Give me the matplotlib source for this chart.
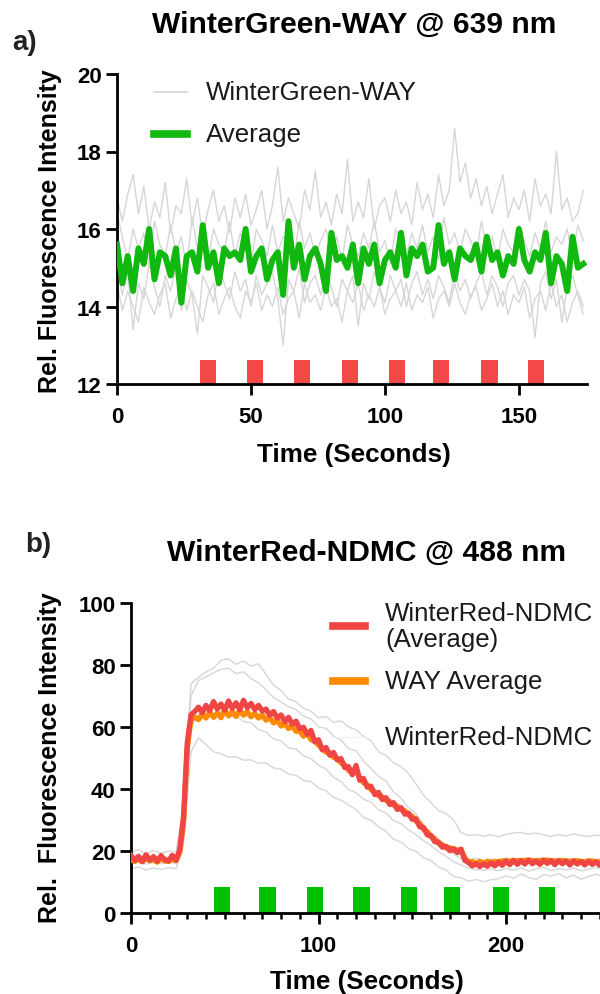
import numpy as np
import matplotlib
matplotlib.use('Agg')
import matplotlib.pyplot as plt
from matplotlib.ticker import MultipleLocator

plt.rcParams['font.family'] = ['Liberation Sans', 'DejaVu Sans']

# ---------------- Panel a data (sampled every 2 s) ----------------
a_dt = 2.0
a_average = [15.6, 14.6, 15.3, 14.4, 15.5, 15.1, 16.0, 14.7, 15.4, 15.3, 14.8, 15.5, 14.1, 15.3, 15.4, 14.9,
             16.1, 15.0, 15.4, 14.6, 15.5, 15.3, 15.4, 15.2, 16.0, 14.9, 15.3, 15.5, 14.7, 15.2, 15.4, 14.3,
             16.2, 15.0, 15.6, 14.7, 15.3, 15.5, 15.1, 14.4, 15.9, 15.2, 15.3, 15.0, 15.6, 14.6, 15.5, 15.1,
             15.6, 14.6, 15.2, 15.4, 15.0, 15.9, 14.8, 15.5, 15.3, 15.6, 14.9, 15.0, 16.1, 15.1, 15.4, 14.7,
             15.5, 15.3, 15.2, 15.6, 14.9, 15.8, 15.2, 15.4, 14.8, 15.3, 15.1, 16.0, 15.2, 14.9, 15.4, 15.2,
             15.9, 14.6, 15.3, 15.1, 14.4, 15.8, 15.0, 15.1]
a_trace1 = [16.8, 16.2, 16.9, 17.4, 16.4, 17.1, 16.0, 16.7, 16.3, 17.2, 15.9, 16.6, 16.4, 17.3, 16.1, 16.8,
            15.8, 16.5, 17.0, 16.2, 16.6, 15.9, 16.8, 16.3, 16.9, 16.1, 16.5, 17.0, 16.0, 16.6, 17.6, 16.2,
            16.8, 16.4, 16.0, 17.0, 16.5, 17.5, 16.3, 16.7, 16.1, 16.9, 16.4, 17.8, 16.2, 16.7, 16.3, 17.3,
            16.0, 16.6, 16.8, 16.2, 17.0, 16.4, 16.7, 16.1, 17.2, 16.5, 16.9, 16.3, 17.4, 16.6, 17.0, 18.6,
            17.2, 17.7, 16.8, 17.3, 16.6, 17.1, 16.4, 16.9, 17.4, 16.3, 16.8, 16.5, 17.0, 16.2, 17.3, 16.6,
            16.9, 16.4, 18.0, 16.5, 16.8, 16.2, 16.4, 17.0]
a_trace2 = [16.4, 15.8, 15.2, 16.0, 15.5, 15.9, 15.1, 16.2, 15.6, 15.3, 16.1, 15.4, 15.8, 15.0, 16.3, 15.5,
            15.7, 15.2, 16.0, 15.6, 15.4, 16.2, 15.3, 15.9, 15.5, 15.1, 16.0, 15.7, 15.3, 16.1, 15.4, 15.8,
            15.6, 15.2, 16.2, 15.5, 15.9, 15.3, 15.7, 16.0, 15.4, 15.8, 15.2, 16.1, 15.6, 15.3, 15.9, 15.5,
            16.2, 15.4, 15.7, 15.1, 16.0, 15.6, 15.3, 15.9, 15.5, 16.1, 15.4, 15.8, 15.2, 16.3, 15.6, 15.9,
            15.4, 16.0, 15.7, 15.3, 16.2, 15.5, 15.8, 15.2, 16.0, 15.6, 15.4, 16.1, 15.7, 15.3, 15.9, 15.5,
            16.2, 15.4, 15.8, 15.6, 16.0, 15.3, 16.1, 15.7]
a_trace3 = [15.0, 14.3, 14.9, 13.4, 14.6, 14.2, 15.1, 14.5, 14.0, 14.8, 14.4, 15.0, 13.9, 14.7, 14.3, 13.3,
            14.8, 14.5, 14.1, 15.0, 14.6, 14.2, 14.9, 14.4, 14.7, 14.0, 14.8, 14.3, 14.6, 14.9, 14.2, 13.0,
            14.7, 14.4, 15.0, 14.1, 14.6, 14.8, 14.3, 14.9, 14.5, 14.0, 14.7, 14.4, 14.8, 13.5, 14.6, 14.2,
            14.9, 14.5, 14.1, 14.8, 14.4, 14.7, 14.0, 14.6, 14.9, 14.3, 14.7, 14.2, 14.8, 14.5, 14.1, 14.9,
            14.4, 14.7, 14.2, 14.6, 14.9, 14.3, 14.8, 14.5, 14.0, 14.6, 14.8, 14.3, 14.7, 14.4, 13.2, 14.6,
            14.9, 14.2, 14.7, 13.6, 14.5, 14.8, 14.3, 13.8]
a_trace4 = [14.6, 13.9, 14.4, 14.0, 13.6, 14.5, 14.1, 13.8, 14.3, 14.6, 13.7, 14.2, 14.5, 13.9, 14.4, 14.0,
            13.6, 14.3, 14.6, 13.8, 14.2, 14.5, 14.0, 13.7, 14.4, 14.1, 14.6, 13.9, 14.3, 14.0, 14.5, 13.8,
            14.2, 14.4, 13.7, 14.6, 14.1, 14.3, 13.9, 14.5, 14.0, 14.2, 13.6, 14.4, 14.1, 14.6, 13.9, 14.3,
            14.0, 14.5, 13.8, 14.2, 14.4, 14.0, 14.6, 13.9, 14.3, 14.1, 14.5, 13.7, 14.2, 14.4, 14.0, 14.6,
            14.1, 13.8, 14.3, 14.5, 13.9, 14.2, 14.6, 14.0, 14.4, 13.8, 14.3, 14.1, 14.5, 13.7, 14.2, 14.4,
            13.9, 14.6, 14.0, 14.3, 13.6, 14.1, 14.4, 14.0]
a_stim_start = [31.0, 48.5, 66.0, 84.0, 101.5, 118.0, 136.0, 153.5]
a_stim_width = 6.0
a_stim_height = 0.62
a_base = 12.0

# ---------------- Panel b data ----------------
b_dt_avg = 2.0
b_red_avg = [18.6, 16.9, 18.3, 16.6, 18.8, 17.0, 18.2, 16.7, 18.5, 17.1, 16.8, 18.6, 17.0,
             20.5, 31.0, 55.0, 64.0,
             65.0, 66.4, 64.6, 67.0, 65.3, 68.2, 65.8, 67.4, 65.4, 68.4, 66.0, 67.8, 65.6, 68.6, 66.2,
             67.6, 65.6, 67.0, 65.2,
             65.8, 63.8, 65.0, 62.9, 63.9, 61.8, 63.1, 60.9, 61.9, 59.4, 59.9, 57.6, 58.9, 55.2, 55.9,
             52.6, 53.4, 50.9, 51.8, 49.4,
             49.8, 46.9, 47.2, 44.6, 47.6, 42.8, 43.4, 40.6, 40.9, 38.2, 38.9, 36.6, 37.2, 35.0, 35.6,
             33.4, 34.0, 31.9, 32.2, 30.2,
             30.4, 27.8, 27.6, 25.2, 25.0, 23.0, 22.9, 21.2, 21.5, 20.1, 20.8, 19.5, 20.6, 17.0, 16.3,
             15.2, 15.9, 15.0, 15.8, 15.1,
             16.2, 15.2, 16.4, 15.4, 16.8, 15.6, 17.0, 15.7, 16.9, 15.8, 17.1, 15.9, 16.8, 15.7, 17.0,
             16.0, 16.9, 15.6, 16.9, 15.9, 16.8, 15.5, 16.8, 15.8, 16.6, 15.5, 16.7, 15.7, 16.5, 15.4, 16.3]
b_way_avg = [17.2, 16.6, 17.4, 16.5, 17.6, 16.9, 17.1, 16.4, 17.5, 16.8, 16.6, 17.4, 16.9,
             19.5, 29.0, 53.0, 62.5,
             63.2, 62.4, 64.1, 62.9, 64.8, 63.1, 64.5, 63.0, 65.5, 63.6, 64.9, 63.4, 65.4, 63.8, 64.9,
             63.3, 64.4, 62.9, 63.9,
             62.2, 63.1, 61.3, 62.1, 60.3, 61.1, 59.5, 60.3, 58.6, 58.7, 57.0, 58.1, 55.9, 55.4, 54.2,
             53.1, 51.9, 51.6, 50.2, 49.8,
             48.4, 47.7, 46.0, 45.2, 46.1, 43.5, 42.0, 41.3, 39.8, 39.1, 37.8, 37.5, 36.3, 36.0, 34.8,
             34.5, 33.4, 33.0, 31.6, 31.2,
             29.6, 28.8, 27.0, 26.3, 24.6, 24.0, 22.4, 22.1, 21.0, 21.1, 20.2, 20.4, 20.3, 17.8, 16.4,
             16.6, 15.9, 16.7, 16.0, 16.7,
             16.3, 16.6, 16.5, 16.8, 16.7, 16.8, 16.8, 16.9, 16.9, 17.0, 17.0, 17.0, 16.7, 16.9, 16.9,
             17.1, 16.8, 16.8, 16.8, 17.0, 16.7, 16.7, 16.8, 16.9, 16.6, 16.6, 16.7, 16.8, 16.5, 16.5, 16.4]
b_dt_trace = 4.0
b_trace1 = [19.5, 20.5, 19.0, 20.2, 19.3, 20.0, 19.6, 35.0, 74.0,
            76.0, 77.8, 79.0, 81.5, 82.0, 80.2, 81.3, 79.6, 80.4, 77.0,
            73.5, 71.8, 69.0, 68.2, 66.0, 65.1, 63.0, 63.4, 61.5, 62.0,
            60.0, 59.1, 57.0, 55.6, 52.0, 50.8, 48.5, 47.2, 45.0, 41.6,
            38.0, 35.6, 33.0, 32.1, 30.0, 26.0, 25.0, 25.3, 24.8, 25.2,
            24.6, 25.4, 25.8, 26.0, 25.4, 25.8, 25.2, 24.7, 25.3, 24.8, 25.5, 25.0, 24.7, 25.1, 24.9]
b_trace2 = [18.5, 17.6, 18.8, 17.9, 18.4, 17.7, 18.2, 30.0, 70.0,
            75.0, 76.2, 77.5, 78.6, 79.0, 77.2, 77.8, 75.6, 74.3, 72.0,
            69.5, 68.1, 66.5, 65.6, 63.5, 62.6, 60.0, 59.6, 57.0, 55.8,
            53.0, 52.4, 49.0, 46.7, 44.0, 42.6, 39.0, 37.1, 34.0, 32.0,
            28.5, 25.0, 22.5, 20.5, 19.0, 17.5, 17.2, 17.6, 17.0, 17.4,
            17.1, 17.8, 17.3, 17.6, 17.0, 17.5, 17.9, 17.2, 17.6, 17.1, 17.4, 17.0, 17.5, 17.2, 17.6]
b_trace3 = [16.0, 16.5, 15.8, 16.3, 15.9, 16.4, 16.0, 25.0, 60.0,
            64.0, 65.2, 63.8, 65.0, 63.2, 63.6, 61.8, 61.4, 59.2, 58.4,
            56.2, 55.5, 53.3, 52.9, 50.7, 49.8, 47.7, 46.4, 43.8, 42.4,
            39.8, 38.8, 36.7, 35.8, 33.3, 32.3, 29.8, 28.8, 26.8, 25.3,
            23.3, 21.8, 19.8, 18.3, 16.5, 15.5, 14.5, 14.0, 13.8, 14.2,
            13.6, 14.4, 13.9, 14.6, 13.5, 14.2, 14.8, 13.7, 14.3, 13.9, 14.5, 13.6, 14.1, 14.7, 14.0]
b_trace4 = [14.2, 14.8, 13.9, 14.5, 14.0, 14.6, 14.3, 22.0, 52.0,
            56.5, 54.3, 52.0, 51.4, 50.3, 50.4, 49.3, 49.4, 48.3, 48.4,
            46.8, 46.4, 44.8, 44.4, 42.8, 42.4, 40.3, 39.4, 37.3, 36.4,
            34.8, 33.4, 30.8, 29.9, 27.8, 26.4, 23.8, 22.9, 20.8, 19.9,
            17.8, 16.9, 14.8, 13.9, 11.8, 11.3, 10.3, 10.8, 10.1, 10.7,
            11.0, 12.0, 11.2, 12.6, 11.5, 10.8, 12.4, 11.9, 12.8, 11.3, 12.2, 10.9, 11.8, 12.5, 11.6]
b_stim_start = [44.0, 68.5, 93.7, 118.6, 144.0, 167.0, 193.0, 217.6]
b_stim_width = 8.6
b_stim_height = 8.4

# ---------------- styles ----------------
GREY = '#d6d6d6'
GREEN = '#10b810'
RED = '#f04545'
ORANGE = '#ff8a00'
BAR_RED = '#f24848'
BAR_GREEN = '#00c000'
TXT = '#1a1a1a'
LEG_FS = 18.6

W, H = 600, 995
fig = plt.figure(figsize=(W / 100, H / 100), dpi=100)


def px_box(x0, y0, x1, y1):
    return [x0 / W, 1 - y1 / H, (x1 - x0) / W, (y1 - y0) / H]


axA = fig.add_axes(px_box(117, 75, 587, 385))
axB = fig.add_axes(px_box(131, 604, 600, 914))


def style_axes(ax):
    for s in ['top', 'right']:
        ax.spines[s].set_visible(False)
    for s in ['left', 'bottom']:
        ax.spines[s].set_linewidth(2.0)
    ax.tick_params(which='major', direction='out', length=8, width=2.0, labelsize=16, pad=3)
    ax.tick_params(which='minor', direction='out', length=4.5, width=1.8)
    for lbl in ax.get_xticklabels() + ax.get_yticklabels():
        lbl.set_fontweight('bold')


# ---- Panel a ----
for tr in [a_trace1, a_trace2, a_trace3, a_trace4]:
    axA.plot(np.arange(len(tr)) * a_dt, tr, color=GREY, lw=1.0, zorder=1)
axA.plot(np.arange(len(a_average)) * a_dt, a_average, color=GREEN, lw=4.3, zorder=3)
axA.bar(a_stim_start, [a_stim_height] * len(a_stim_start), width=a_stim_width, bottom=a_base,
        align='edge', color=BAR_RED, zorder=2)
axA.set_xlim(0, 175.4)
axA.set_ylim(12, 20)
axA.set_xticks([0, 50, 100, 150])
axA.set_yticks([12, 14, 16, 18, 20])
style_axes(axA)
axA.tick_params(axis='x', pad=8)

# legend a (manual)
axA.plot([0.079, 0.149], [0.942, 0.942], transform=axA.transAxes, color=GREY, lw=1.2, clip_on=False)
axA.text(0.189, 0.942, 'WinterGreen-WAY', transform=axA.transAxes, fontsize=LEG_FS, color=TXT,
         va='center', ha='left')
axA.plot([0.079, 0.149], [0.806, 0.806], transform=axA.transAxes, color=GREEN, lw=5.5, clip_on=False)
axA.text(0.189, 0.806, 'Average', transform=axA.transAxes, fontsize=LEG_FS, color=TXT,
         va='center', ha='left')

# ---- Panel b ----
for tr in [b_trace1, b_trace2, b_trace3, b_trace4]:
    axB.plot(np.arange(len(tr)) * b_dt_trace, tr, color=GREY, lw=1.0, zorder=1)
axB.plot(np.arange(len(b_way_avg)) * b_dt_avg, b_way_avg, color=ORANGE, lw=3.8, zorder=3)
axB.plot(np.arange(len(b_red_avg)) * b_dt_avg, b_red_avg, color=RED, lw=3.8, zorder=4)
axB.bar(b_stim_start, [b_stim_height] * len(b_stim_start), width=b_stim_width, bottom=0,
        align='edge', color=BAR_GREEN, zorder=2)
axB.set_xlim(0, 250.1)
axB.set_ylim(0, 100)
axB.set_xticks([0, 100, 200])
axB.xaxis.set_minor_locator(MultipleLocator(10))
axB.set_yticks([0, 20, 40, 60, 80, 100])
style_axes(axB)
axB.tick_params(axis='x', pad=8)

# legend b (manual)
axB.plot([0.431, 0.499], [0.926, 0.926], transform=axB.transAxes, color=RED, lw=5.5, clip_on=False)
axB.text(0.542, 0.926, 'WinterRed-NDMC\n(Average)', transform=axB.transAxes, fontsize=LEG_FS,
         color=TXT, va='center', ha='left', linespacing=1.1)
axB.plot([0.431, 0.499], [0.748, 0.748], transform=axB.transAxes, color=ORANGE, lw=5.5, clip_on=False)
axB.text(0.542, 0.748, 'WAY Average', transform=axB.transAxes, fontsize=LEG_FS, color=TXT,
         va='center', ha='left')
axB.plot([0.431, 0.499], [0.568, 0.568], transform=axB.transAxes, color='#f2f2f2', lw=1.0, clip_on=False)
axB.text(0.542, 0.568, 'WinterRed-NDMC', transform=axB.transAxes, fontsize=LEG_FS, color=TXT,
         va='center', ha='left')

# ---- titles & labels ----
fig.text(354 / W, 1 - 25 / H, 'WinterGreen-WAY @ 639 nm', ha='center', va='center',
         fontsize=21.6, fontweight='bold', color='black')
fig.text(367 / W, 1 - 553 / H, 'WinterRed-NDMC @ 488 nm', ha='center', va='center',
         fontsize=21.6, fontweight='bold', color='black')
fig.text(25 / W, 1 - 43 / H, 'a)', ha='center', va='center', fontsize=20, fontweight='bold',
         color='#222222')
fig.text(38 / W, 1 - 545 / H, 'b)', ha='center', va='center', fontsize=20, fontweight='bold',
         color='#222222')
fig.text(50 / W, 1 - 231 / H, 'Rel. Fluorescence Intensity', ha='center', va='center',
         rotation=90, fontsize=18, fontweight='bold')
fig.text(50 / W, 1 - 758 / H, 'Rel.  Fluorescence Intensity', ha='center', va='center',
         rotation=90, fontsize=18, fontweight='bold')
fig.text(354 / W, 1 - 455 / H, 'Time (Seconds)', ha='center', va='center', fontsize=18.8,
         fontweight='bold')
fig.text(367 / W, 1 - 982 / H, 'Time (Seconds)', ha='center', va='center', fontsize=18.8,
         fontweight='bold')

fig.savefig('out.png', dpi=100)
